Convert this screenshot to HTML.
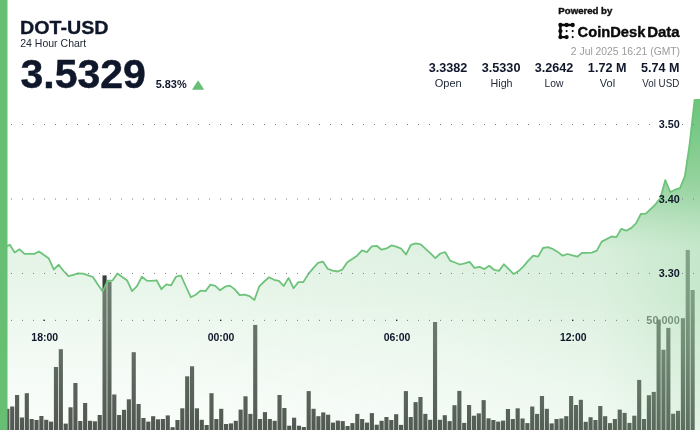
<!DOCTYPE html><html><head><meta charset="utf-8"><title>DOT-USD 24 Hour Chart</title>
<style>html,body{margin:0;padding:0;background:#fff;}body{width:700px;height:430px;overflow:hidden;position:relative;font-family:"Liberation Sans", sans-serif;}svg{position:absolute;left:0;top:0;display:block}text{font-family:"Liberation Sans", sans-serif;}</style></head><body>
<svg width="700" height="430" viewBox="0 0 700 430">
<defs>
<linearGradient id="gv" x1="0" y1="99" x2="0" y2="430" gradientUnits="userSpaceOnUse">
<stop offset="0" stop-color="#6cc47a" stop-opacity="1"/>
<stop offset="0.1" stop-color="#76c883" stop-opacity="0.95"/>
<stop offset="0.245" stop-color="#87cd91" stop-opacity="0.82"/>
<stop offset="0.305" stop-color="#96d39f" stop-opacity="0.75"/>
<stop offset="0.456" stop-color="#bfe4c5" stop-opacity="0.42"/>
<stop offset="0.577" stop-color="#c3e6c8" stop-opacity="0.365"/>
<stop offset="1" stop-color="#dbf0de" stop-opacity="0.137"/>
</linearGradient>
<linearGradient id="gh" x1="0" y1="0" x2="700" y2="0" gradientUnits="userSpaceOnUse">
<stop offset="0.2" stop-color="#82cb8d" stop-opacity="0"/>
<stop offset="0.62" stop-color="#82cb8d" stop-opacity="0.07"/>
<stop offset="0.857" stop-color="#82cb8d" stop-opacity="0.17"/>
<stop offset="1" stop-color="#82cb8d" stop-opacity="0.42"/>
</linearGradient>
<linearGradient id="gm" x1="0" y1="99" x2="0" y2="430" gradientUnits="userSpaceOnUse">
<stop offset="0.6" stop-color="#fff" stop-opacity="1"/>
<stop offset="1" stop-color="#fff" stop-opacity="0.5"/>
</linearGradient>
<mask id="mk" maskUnits="userSpaceOnUse" x="0" y="0" width="700" height="430"><rect x="0" y="0" width="700" height="430" fill="url(#gm)"/></mask>
</defs>

<text x="646.33" y="324.2" font-size="11" font-weight="bold" fill="#3c413c" textLength="33.47" lengthAdjust="spacingAndGlyphs">50,000</text>
<g fill="#3a3f3a">
<rect x="5.30" y="408.8" width="4.15" height="21.2"/>
<rect x="10.16" y="406.5" width="4.15" height="23.5"/>
<rect x="15.02" y="395.0" width="4.15" height="35.0"/>
<rect x="19.88" y="417.5" width="4.15" height="12.5"/>
<rect x="24.74" y="393.2" width="4.15" height="36.8"/>
<rect x="29.60" y="419.0" width="4.15" height="11.0"/>
<rect x="34.46" y="420.0" width="4.15" height="10.0"/>
<rect x="39.32" y="416.0" width="4.15" height="14.0"/>
<rect x="44.18" y="419.8" width="4.15" height="10.2"/>
<rect x="49.04" y="421.6" width="4.15" height="8.4"/>
<rect x="53.90" y="367.0" width="4.15" height="63.0"/>
<rect x="58.76" y="349.2" width="4.15" height="80.8"/>
<rect x="63.62" y="423.6" width="4.15" height="6.4"/>
<rect x="68.48" y="407.3" width="4.15" height="22.7"/>
<rect x="73.34" y="383.0" width="4.15" height="47.0"/>
<rect x="78.20" y="421.0" width="4.15" height="9.0"/>
<rect x="83.06" y="403.0" width="4.15" height="27.0"/>
<rect x="87.92" y="420.8" width="4.15" height="9.2"/>
<rect x="92.78" y="421.3" width="4.15" height="8.7"/>
<rect x="97.64" y="415.0" width="4.15" height="15.0"/>
<rect x="102.50" y="275.4" width="4.15" height="154.6"/>
<rect x="107.36" y="281.6" width="4.15" height="148.4"/>
<rect x="112.22" y="394.5" width="4.15" height="35.5"/>
<rect x="117.08" y="415.0" width="4.15" height="15.0"/>
<rect x="121.94" y="409.8" width="4.15" height="20.2"/>
<rect x="126.80" y="399.3" width="4.15" height="30.7"/>
<rect x="131.66" y="352.2" width="4.15" height="77.8"/>
<rect x="136.52" y="404.0" width="4.15" height="26.0"/>
<rect x="141.38" y="418.0" width="4.15" height="12.0"/>
<rect x="146.24" y="421.6" width="4.15" height="8.4"/>
<rect x="151.10" y="416.2" width="4.15" height="13.8"/>
<rect x="155.96" y="419.3" width="4.15" height="10.7"/>
<rect x="160.82" y="419.0" width="4.15" height="11.0"/>
<rect x="165.68" y="415.4" width="4.15" height="14.6"/>
<rect x="170.54" y="427.2" width="4.15" height="2.8"/>
<rect x="175.40" y="420.0" width="4.15" height="10.0"/>
<rect x="180.26" y="408.3" width="4.15" height="21.7"/>
<rect x="185.12" y="376.3" width="4.15" height="53.7"/>
<rect x="189.98" y="366.3" width="4.15" height="63.7"/>
<rect x="194.84" y="408.3" width="4.15" height="21.7"/>
<rect x="199.70" y="419.8" width="4.15" height="10.2"/>
<rect x="204.56" y="425.0" width="4.15" height="5.0"/>
<rect x="209.42" y="393.2" width="4.15" height="36.8"/>
<rect x="214.28" y="419.0" width="4.15" height="11.0"/>
<rect x="219.14" y="408.8" width="4.15" height="21.2"/>
<rect x="224.00" y="424.0" width="4.15" height="6.0"/>
<rect x="228.86" y="423.4" width="4.15" height="6.6"/>
<rect x="233.72" y="420.8" width="4.15" height="9.2"/>
<rect x="238.58" y="409.6" width="4.15" height="20.4"/>
<rect x="243.44" y="396.3" width="4.15" height="33.7"/>
<rect x="248.30" y="413.9" width="4.15" height="16.1"/>
<rect x="253.16" y="324.9" width="4.15" height="105.1"/>
<rect x="258.02" y="419.0" width="4.15" height="11.0"/>
<rect x="262.88" y="412.1" width="4.15" height="17.9"/>
<rect x="267.74" y="419.0" width="4.15" height="11.0"/>
<rect x="272.60" y="420.8" width="4.15" height="9.2"/>
<rect x="277.46" y="395.0" width="4.15" height="35.0"/>
<rect x="282.32" y="408.0" width="4.15" height="22.0"/>
<rect x="287.18" y="425.7" width="4.15" height="4.3"/>
<rect x="292.04" y="417.7" width="4.15" height="12.3"/>
<rect x="296.90" y="425.7" width="4.15" height="4.3"/>
<rect x="301.76" y="427.0" width="4.15" height="3.0"/>
<rect x="306.62" y="391.1" width="4.15" height="38.9"/>
<rect x="311.48" y="408.8" width="4.15" height="21.2"/>
<rect x="316.34" y="416.2" width="4.15" height="13.8"/>
<rect x="321.20" y="412.4" width="4.15" height="17.6"/>
<rect x="326.06" y="414.7" width="4.15" height="15.3"/>
<rect x="330.92" y="422.6" width="4.15" height="7.4"/>
<rect x="335.78" y="420.6" width="4.15" height="9.4"/>
<rect x="340.64" y="421.1" width="4.15" height="8.9"/>
<rect x="345.50" y="426.0" width="4.15" height="4.0"/>
<rect x="350.36" y="423.1" width="4.15" height="6.9"/>
<rect x="355.22" y="413.9" width="4.15" height="16.1"/>
<rect x="360.08" y="419.0" width="4.15" height="11.0"/>
<rect x="364.94" y="422.6" width="4.15" height="7.4"/>
<rect x="369.80" y="413.1" width="4.15" height="16.9"/>
<rect x="374.66" y="424.7" width="4.15" height="5.3"/>
<rect x="379.52" y="420.8" width="4.15" height="9.2"/>
<rect x="384.38" y="417.0" width="4.15" height="13.0"/>
<rect x="389.24" y="420.0" width="4.15" height="10.0"/>
<rect x="394.10" y="414.2" width="4.15" height="15.8"/>
<rect x="398.96" y="424.9" width="4.15" height="5.1"/>
<rect x="403.82" y="391.1" width="4.15" height="38.9"/>
<rect x="408.68" y="417.0" width="4.15" height="13.0"/>
<rect x="413.54" y="402.1" width="4.15" height="27.9"/>
<rect x="418.40" y="397.0" width="4.15" height="33.0"/>
<rect x="423.26" y="413.9" width="4.15" height="16.1"/>
<rect x="428.12" y="419.8" width="4.15" height="10.2"/>
<rect x="432.98" y="322.0" width="4.15" height="108.0"/>
<rect x="437.84" y="419.8" width="4.15" height="10.2"/>
<rect x="442.70" y="415.2" width="4.15" height="14.8"/>
<rect x="447.56" y="421.1" width="4.15" height="8.9"/>
<rect x="452.42" y="405.2" width="4.15" height="24.8"/>
<rect x="457.28" y="390.9" width="4.15" height="39.1"/>
<rect x="462.14" y="422.9" width="4.15" height="7.1"/>
<rect x="467.00" y="405.0" width="4.15" height="25.0"/>
<rect x="471.86" y="415.7" width="4.15" height="14.3"/>
<rect x="476.72" y="413.4" width="4.15" height="16.6"/>
<rect x="481.58" y="400.1" width="4.15" height="29.9"/>
<rect x="486.44" y="418.3" width="4.15" height="11.7"/>
<rect x="491.30" y="420.0" width="4.15" height="10.0"/>
<rect x="496.16" y="421.6" width="4.15" height="8.4"/>
<rect x="501.02" y="420.6" width="4.15" height="9.4"/>
<rect x="505.88" y="409.0" width="4.15" height="21.0"/>
<rect x="510.74" y="419.0" width="4.15" height="11.0"/>
<rect x="515.60" y="408.3" width="4.15" height="21.7"/>
<rect x="520.46" y="418.5" width="4.15" height="11.5"/>
<rect x="525.32" y="423.1" width="4.15" height="6.9"/>
<rect x="530.18" y="406.5" width="4.15" height="23.5"/>
<rect x="535.04" y="413.9" width="4.15" height="16.1"/>
<rect x="539.90" y="396.0" width="4.15" height="34.0"/>
<rect x="544.76" y="408.8" width="4.15" height="21.2"/>
<rect x="549.62" y="423.4" width="4.15" height="6.6"/>
<rect x="554.48" y="419.0" width="4.15" height="11.0"/>
<rect x="559.34" y="418.5" width="4.15" height="11.5"/>
<rect x="564.20" y="416.2" width="4.15" height="13.8"/>
<rect x="569.06" y="396.0" width="4.15" height="34.0"/>
<rect x="573.92" y="405.0" width="4.15" height="25.0"/>
<rect x="578.78" y="399.8" width="4.15" height="30.2"/>
<rect x="583.64" y="421.8" width="4.15" height="8.2"/>
<rect x="588.50" y="417.2" width="4.15" height="12.8"/>
<rect x="593.36" y="420.0" width="4.15" height="10.0"/>
<rect x="598.22" y="406.0" width="4.15" height="24.0"/>
<rect x="603.08" y="416.2" width="4.15" height="13.8"/>
<rect x="607.94" y="423.1" width="4.15" height="6.9"/>
<rect x="612.80" y="419.0" width="4.15" height="11.0"/>
<rect x="617.66" y="409.6" width="4.15" height="20.4"/>
<rect x="622.52" y="412.9" width="4.15" height="17.1"/>
<rect x="627.38" y="422.9" width="4.15" height="7.1"/>
<rect x="632.24" y="415.7" width="4.15" height="14.3"/>
<rect x="637.10" y="379.9" width="4.15" height="50.1"/>
<rect x="641.96" y="419.0" width="4.15" height="11.0"/>
<rect x="646.82" y="395.2" width="4.15" height="34.8"/>
<rect x="651.68" y="391.9" width="4.15" height="38.1"/>
<rect x="656.54" y="319.5" width="4.15" height="110.5"/>
<rect x="661.40" y="349.7" width="4.15" height="80.3"/>
<rect x="666.26" y="327.9" width="4.15" height="102.1"/>
<rect x="671.12" y="413.7" width="4.15" height="16.3"/>
<rect x="675.98" y="410.8" width="4.15" height="19.2"/>
<rect x="680.84" y="318.2" width="4.15" height="111.8"/>
<rect x="685.70" y="249.9" width="4.15" height="180.1"/>
<rect x="690.56" y="290.0" width="4.15" height="140.0"/>
</g>
<path d="M4.9 247.3 L9.8 244.7 L14.7 252.4 L19.6 249.3 L24.5 253.9 L29.4 253.9 L34.3 253.9 L39.1 251.5 L44.0 255.0 L48.9 258.6 L53.8 269.5 L58.7 264.7 L63.6 271.0 L68.5 276.2 L73.4 274.8 L78.3 273.3 L83.2 273.7 L88.1 275.3 L93.0 277.0 L97.8 284.4 L102.7 291.5 L107.6 280.6 L112.5 280.6 L117.4 273.4 L122.3 277.0 L127.2 280.6 L132.1 291.1 L137.0 286.2 L141.9 276.7 L146.8 280.6 L151.7 280.8 L156.6 280.3 L161.4 289.2 L166.3 284.4 L171.2 285.3 L176.1 276.6 L181.0 275.6 L185.9 286.5 L190.8 297.2 L195.7 294.8 L200.6 290.6 L205.5 291.2 L210.4 284.6 L215.3 285.8 L220.1 290.3 L225.0 286.7 L229.9 285.6 L234.8 289.4 L239.7 295.1 L244.6 294.6 L249.5 296.1 L254.4 300.0 L259.3 286.3 L264.2 281.5 L269.1 277.2 L274.0 279.8 L278.9 280.8 L283.7 286.0 L288.6 277.9 L293.5 288.2 L298.4 282.1 L303.3 282.1 L308.2 274.2 L313.1 268.4 L318.0 262.9 L322.9 261.6 L327.8 268.9 L332.7 270.6 L337.6 271.5 L342.4 269.6 L347.3 262.2 L352.2 259.0 L357.1 255.7 L362.0 250.3 L366.9 252.2 L371.8 246.4 L376.7 245.8 L381.6 249.7 L386.5 248.4 L391.4 245.4 L396.3 246.6 L401.2 248.6 L406.0 254.5 L410.9 244.9 L415.8 243.4 L420.7 244.3 L425.6 248.8 L430.5 253.3 L435.4 258.2 L440.3 253.5 L445.2 252.2 L450.1 260.6 L455.0 262.5 L459.9 264.5 L464.7 263.3 L469.6 261.9 L474.5 267.8 L479.4 266.8 L484.3 269.1 L489.2 265.8 L494.1 269.8 L499.0 270.9 L503.9 264.3 L508.8 269.2 L513.7 274.1 L518.6 271.1 L523.5 266.4 L528.3 260.6 L533.2 255.7 L538.1 256.6 L543.0 248.0 L547.9 247.1 L552.8 249.0 L557.7 251.9 L562.6 255.7 L567.5 254.0 L572.4 255.3 L577.3 256.7 L582.2 252.8 L587.0 252.8 L591.9 252.6 L596.8 250.6 L601.7 241.6 L606.6 239.1 L611.5 236.5 L616.4 237.1 L621.3 228.8 L626.2 230.7 L631.1 228.1 L636.0 223.3 L640.9 214.0 L645.8 213.7 L650.6 209.1 L655.5 204.3 L660.4 198.0 L665.3 180.1 L670.2 192.0 L675.1 189.7 L680.0 188.2 L684.9 176.0 L689.4 146.0 L694.6 99.9 L701.0 99.9 L701 431 L0 431 Z" fill="url(#gh)" mask="url(#mk)"/>
<path d="M4.9 247.3 L9.8 244.7 L14.7 252.4 L19.6 249.3 L24.5 253.9 L29.4 253.9 L34.3 253.9 L39.1 251.5 L44.0 255.0 L48.9 258.6 L53.8 269.5 L58.7 264.7 L63.6 271.0 L68.5 276.2 L73.4 274.8 L78.3 273.3 L83.2 273.7 L88.1 275.3 L93.0 277.0 L97.8 284.4 L102.7 291.5 L107.6 280.6 L112.5 280.6 L117.4 273.4 L122.3 277.0 L127.2 280.6 L132.1 291.1 L137.0 286.2 L141.9 276.7 L146.8 280.6 L151.7 280.8 L156.6 280.3 L161.4 289.2 L166.3 284.4 L171.2 285.3 L176.1 276.6 L181.0 275.6 L185.9 286.5 L190.8 297.2 L195.7 294.8 L200.6 290.6 L205.5 291.2 L210.4 284.6 L215.3 285.8 L220.1 290.3 L225.0 286.7 L229.9 285.6 L234.8 289.4 L239.7 295.1 L244.6 294.6 L249.5 296.1 L254.4 300.0 L259.3 286.3 L264.2 281.5 L269.1 277.2 L274.0 279.8 L278.9 280.8 L283.7 286.0 L288.6 277.9 L293.5 288.2 L298.4 282.1 L303.3 282.1 L308.2 274.2 L313.1 268.4 L318.0 262.9 L322.9 261.6 L327.8 268.9 L332.7 270.6 L337.6 271.5 L342.4 269.6 L347.3 262.2 L352.2 259.0 L357.1 255.7 L362.0 250.3 L366.9 252.2 L371.8 246.4 L376.7 245.8 L381.6 249.7 L386.5 248.4 L391.4 245.4 L396.3 246.6 L401.2 248.6 L406.0 254.5 L410.9 244.9 L415.8 243.4 L420.7 244.3 L425.6 248.8 L430.5 253.3 L435.4 258.2 L440.3 253.5 L445.2 252.2 L450.1 260.6 L455.0 262.5 L459.9 264.5 L464.7 263.3 L469.6 261.9 L474.5 267.8 L479.4 266.8 L484.3 269.1 L489.2 265.8 L494.1 269.8 L499.0 270.9 L503.9 264.3 L508.8 269.2 L513.7 274.1 L518.6 271.1 L523.5 266.4 L528.3 260.6 L533.2 255.7 L538.1 256.6 L543.0 248.0 L547.9 247.1 L552.8 249.0 L557.7 251.9 L562.6 255.7 L567.5 254.0 L572.4 255.3 L577.3 256.7 L582.2 252.8 L587.0 252.8 L591.9 252.6 L596.8 250.6 L601.7 241.6 L606.6 239.1 L611.5 236.5 L616.4 237.1 L621.3 228.8 L626.2 230.7 L631.1 228.1 L636.0 223.3 L640.9 214.0 L645.8 213.7 L650.6 209.1 L655.5 204.3 L660.4 198.0 L665.3 180.1 L670.2 192.0 L675.1 189.7 L680.0 188.2 L684.9 176.0 L689.4 146.0 L694.6 99.9 L701.0 99.9 L701 431 L0 431 Z" fill="url(#gv)"/>
<polyline points="4.9,247.3 9.8,244.7 14.7,252.4 19.6,249.3 24.5,253.9 29.4,253.9 34.3,253.9 39.1,251.5 44.0,255.0 48.9,258.6 53.8,269.5 58.7,264.7 63.6,271.0 68.5,276.2 73.4,274.8 78.3,273.3 83.2,273.7 88.1,275.3 93.0,277.0 97.8,284.4 102.7,291.5 107.6,280.6 112.5,280.6 117.4,273.4 122.3,277.0 127.2,280.6 132.1,291.1 137.0,286.2 141.9,276.7 146.8,280.6 151.7,280.8 156.6,280.3 161.4,289.2 166.3,284.4 171.2,285.3 176.1,276.6 181.0,275.6 185.9,286.5 190.8,297.2 195.7,294.8 200.6,290.6 205.5,291.2 210.4,284.6 215.3,285.8 220.1,290.3 225.0,286.7 229.9,285.6 234.8,289.4 239.7,295.1 244.6,294.6 249.5,296.1 254.4,300.0 259.3,286.3 264.2,281.5 269.1,277.2 274.0,279.8 278.9,280.8 283.7,286.0 288.6,277.9 293.5,288.2 298.4,282.1 303.3,282.1 308.2,274.2 313.1,268.4 318.0,262.9 322.9,261.6 327.8,268.9 332.7,270.6 337.6,271.5 342.4,269.6 347.3,262.2 352.2,259.0 357.1,255.7 362.0,250.3 366.9,252.2 371.8,246.4 376.7,245.8 381.6,249.7 386.5,248.4 391.4,245.4 396.3,246.6 401.2,248.6 406.0,254.5 410.9,244.9 415.8,243.4 420.7,244.3 425.6,248.8 430.5,253.3 435.4,258.2 440.3,253.5 445.2,252.2 450.1,260.6 455.0,262.5 459.9,264.5 464.7,263.3 469.6,261.9 474.5,267.8 479.4,266.8 484.3,269.1 489.2,265.8 494.1,269.8 499.0,270.9 503.9,264.3 508.8,269.2 513.7,274.1 518.6,271.1 523.5,266.4 528.3,260.6 533.2,255.7 538.1,256.6 543.0,248.0 547.9,247.1 552.8,249.0 557.7,251.9 562.6,255.7 567.5,254.0 572.4,255.3 577.3,256.7 582.2,252.8 587.0,252.8 591.9,252.6 596.8,250.6 601.7,241.6 606.6,239.1 611.5,236.5 616.4,237.1 621.3,228.8 626.2,230.7 631.1,228.1 636.0,223.3 640.9,214.0 645.8,213.7 650.6,209.1 655.5,204.3 660.4,198.0 665.3,180.1 670.2,192.0 675.1,189.7 680.0,188.2 684.9,176.0 689.4,146.0 694.6,99.9 701.0,99.9" fill="none" stroke="#6ec37b" stroke-width="1.8" stroke-linejoin="round"/>
<line x1="0" y1="124.50" x2="650.5" y2="124.50" stroke="#7d7a80" stroke-width="1" stroke-dasharray="1 10"/>
<line x1="682" y1="124.50" x2="700" y2="124.50" stroke="#7d7a80" stroke-width="1" stroke-dasharray="1 10"/>
<line x1="0" y1="199.00" x2="650.5" y2="199.00" stroke="#7d7a80" stroke-width="1" stroke-dasharray="1 10"/>
<line x1="682" y1="199.00" x2="700" y2="199.00" stroke="#7d7a80" stroke-width="1" stroke-dasharray="1 10"/>
<line x1="0" y1="273.45" x2="650.5" y2="273.45" stroke="#7d7a80" stroke-width="1" stroke-dasharray="1 10"/>
<line x1="682" y1="273.45" x2="700" y2="273.45" stroke="#7d7a80" stroke-width="1" stroke-dasharray="1 10"/>
<line x1="0" y1="320.35" x2="639.5" y2="320.35" stroke="#7d7a80" stroke-width="1" stroke-dasharray="1 10"/>
<line x1="682" y1="320.35" x2="700" y2="320.35" stroke="#7d7a80" stroke-width="1" stroke-dasharray="1 10"/>
<rect x="43.4" y="319.7" width="1.4" height="1.2" fill="#1a2238"/>
<rect x="220.0" y="319.7" width="1.4" height="1.2" fill="#1a2238"/>
<rect x="396.0" y="319.7" width="1.4" height="1.2" fill="#1a2238"/>
<rect x="572.0" y="319.7" width="1.4" height="1.2" fill="#1a2238"/>
<rect x="0" y="0" width="7.5" height="430" fill="#66bf73"/>
<path d="M192 89.8 L198.1 80.2 L204.2 89.8 Z" fill="#66bf73"/>
<g stroke="#0a0a0a" stroke-width="2.4" stroke-linecap="round" fill="none"><path d="M560.4 25 H572.7 M560.4 25 V37.1 H566.6"/></g>
<g fill="#0a0a0a">
<circle cx="560.4" cy="25.0" r="2.15"/>
<circle cx="566.6" cy="25.0" r="2.15"/>
<circle cx="572.7" cy="25.0" r="2.15"/>
<circle cx="560.4" cy="31.1" r="2.15"/>
<circle cx="560.4" cy="37.1" r="2.15"/>
<circle cx="566.6" cy="37.1" r="2.15"/>
<circle cx="566.6" cy="31.1" r="1.05"/>
<circle cx="572.7" cy="31.1" r="1.05"/>
<circle cx="572.7" cy="37.1" r="1.05"/>
</g>
<text x="20.08" y="33.6" font-size="18" font-weight="bold" fill="#0f172a" stroke="#0f172a" stroke-width="0.3" stroke-linejoin="round" textLength="88.43" lengthAdjust="spacingAndGlyphs">DOT-USD</text>
<text x="20.22" y="46.9" font-size="11" font-weight="normal" fill="#222a3a" textLength="66.03" lengthAdjust="spacingAndGlyphs">24 Hour Chart</text>
<text x="20.52" y="87.8" font-size="40" font-weight="bold" fill="#0f172a" stroke="#0f172a" stroke-width="0.5" stroke-linejoin="round" textLength="125.34" lengthAdjust="spacingAndGlyphs">3.5329</text>
<text x="155.67" y="87.9" font-size="11" font-weight="bold" fill="#0f172a" textLength="30.98" lengthAdjust="spacingAndGlyphs">5.83%</text>
<text x="558.37" y="14.1" font-size="9.3" font-weight="bold" fill="#111111" stroke="#111111" stroke-width="0.4" stroke-linejoin="round" textLength="53.98" lengthAdjust="spacingAndGlyphs">Powered by</text>
<text x="577.59" y="36.8" font-size="15.3" font-weight="bold" fill="#0a0a0a" stroke="#0a0a0a" stroke-width="0.4" stroke-linejoin="round" textLength="67.84" lengthAdjust="spacingAndGlyphs">CoinDesk</text>
<text x="647.18" y="36.8" font-size="15.3" font-weight="bold" fill="#0a0a0a" stroke="#0a0a0a" stroke-width="0.4" stroke-linejoin="round" textLength="32.47" lengthAdjust="spacingAndGlyphs">Data</text>
<text x="570.86" y="55.1" font-size="11" font-weight="normal" fill="#9b9b9b" textLength="109.20" lengthAdjust="spacingAndGlyphs">2 Jul 2025 16:21 (GMT)</text>
<text x="428.68" y="71.9" font-size="12" font-weight="bold" fill="#0f172a" textLength="38.65" lengthAdjust="spacingAndGlyphs">3.3382</text>
<text x="481.73" y="71.9" font-size="12" font-weight="bold" fill="#0f172a" textLength="38.70" lengthAdjust="spacingAndGlyphs">3.5330</text>
<text x="534.67" y="71.9" font-size="12" font-weight="bold" fill="#0f172a" textLength="38.62" lengthAdjust="spacingAndGlyphs">3.2642</text>
<text x="587.87" y="71.9" font-size="12" font-weight="bold" fill="#0f172a" textLength="38.59" lengthAdjust="spacingAndGlyphs">1.72 M</text>
<text x="640.94" y="71.9" font-size="12" font-weight="bold" fill="#0f172a" textLength="38.42" lengthAdjust="spacingAndGlyphs">5.74 M</text>
<text x="434.69" y="87.0" font-size="11" font-weight="normal" fill="#222a3a" textLength="27.04" lengthAdjust="spacingAndGlyphs">Open</text>
<text x="490.53" y="87.0" font-size="11" font-weight="normal" fill="#222a3a" textLength="22.06" lengthAdjust="spacingAndGlyphs">High</text>
<text x="544.42" y="87.0" font-size="11" font-weight="normal" fill="#222a3a" textLength="18.93" lengthAdjust="spacingAndGlyphs">Low</text>
<text x="599.80" y="87.0" font-size="11" font-weight="normal" fill="#222a3a" textLength="15.29" lengthAdjust="spacingAndGlyphs">Vol</text>
<text x="642.29" y="87.0" font-size="11" font-weight="normal" fill="#222a3a" textLength="36.93" lengthAdjust="spacingAndGlyphs">Vol USD</text>
<text x="658.77" y="128.4" font-size="11" font-weight="bold" fill="#0f172a" textLength="21.05" lengthAdjust="spacingAndGlyphs">3.50</text>
<text x="658.77" y="202.9" font-size="11" font-weight="bold" fill="#0f172a" textLength="21.05" lengthAdjust="spacingAndGlyphs">3.40</text>
<text x="658.77" y="277.4" font-size="11" font-weight="bold" fill="#0f172a" textLength="21.05" lengthAdjust="spacingAndGlyphs">3.30</text>
<text x="31.30" y="341.0" font-size="11" font-weight="bold" fill="#0f172a" textLength="26.89" lengthAdjust="spacingAndGlyphs">18:00</text>
<text x="207.65" y="341.0" font-size="11" font-weight="bold" fill="#0f172a" textLength="26.80" lengthAdjust="spacingAndGlyphs">00:00</text>
<text x="383.65" y="341.0" font-size="11" font-weight="bold" fill="#0f172a" textLength="26.80" lengthAdjust="spacingAndGlyphs">06:00</text>
<text x="560.04" y="341.0" font-size="11" font-weight="bold" fill="#0f172a" textLength="26.64" lengthAdjust="spacingAndGlyphs">12:00</text>
</svg></body></html>
